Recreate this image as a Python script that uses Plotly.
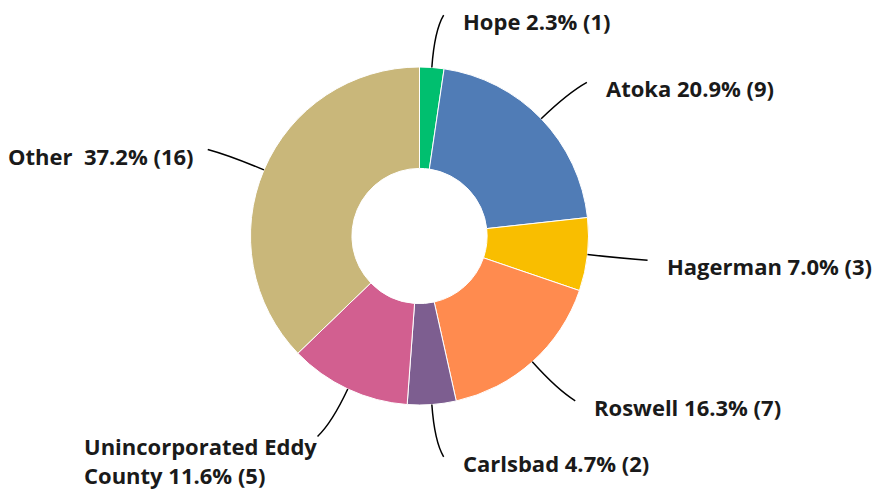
import math
import plotly.graph_objects as go

# ---- data ----
categories = ["Hope", "Atoka", "Hagerman", "Roswell", "Carlsbad",
              "Unincorporated Eddy County", "Other"]
counts = [1, 9, 3, 7, 2, 5, 16]
label_texts = ["Hope 2.3% (1)", "Atoka 20.9% (9)", "Hagerman 7.0% (3)",
               "Roswell 16.3% (7)", "Carlsbad 4.7% (2)",
               "Unincorporated Eddy<br>County 11.6% (5)", "Other  37.2% (16)"]
colors = ["#00BF6F", "#507CB6", "#F9BE00", "#FF8B4F", "#7D5E90",
          "#D25F90", "#C9B77A"]

# ---- layout geometry (pixels) ----
W, H = 876, 490
CX, CY, R = 419.5, 236.0, 169.0

fig = go.Figure(go.Pie(
    labels=categories, values=counts, sort=False, direction="clockwise",
    rotation=0, hole=0.4, textinfo="none", hoverinfo="skip",
    marker=dict(colors=colors, line=dict(color="white", width=1)),
    domain=dict(x=[(CX - R) / W, (CX + R) / W], y=[1 - (CY + R) / H, 1 - (CY - R) / H]),
    showlegend=False,
))

def px(x, y):
    return x / W, 1 - y / H

total = sum(counts)
cum = 0
shapes, annotations = [], []
font = dict(family="Open Sans", size=22, color="#1a1a1a")
for i, v in enumerate(counts):
    mid = (cum + v / 2) / total * 2 * math.pi
    cum += v
    sx, sy = math.sin(mid), -math.cos(mid)
    side = 1 if sx >= 0 else -1
    p0 = (CX + R * sx, CY + R * sy)
    c = (CX + 1.22 * R * sx, CY + 1.22 * R * sy)
    p2 = (CX + 1.31 * R * sx + side * 8, CY + 1.31 * R * sy)
    a, b, d = px(*p0), px(*c), px(*p2)
    shapes.append(dict(type="path", xref="paper", yref="paper",
                       path=f"M {a[0]},{a[1]} Q {b[0]},{b[1]} {d[0]},{d[1]}",
                       line=dict(color="black", width=1.5)))
    txt = "<b>" + label_texts[i].replace("<br>", "</b><br><b>") + "</b>"
    if "<br>" in label_texts[i]:
        lx, ly = px(p2[0] + 1, p2[1] - 7)
        annotations.append(dict(x=lx, y=ly, xref="paper", yref="paper", text=txt,
                                showarrow=False, xanchor="right", yanchor="top",
                                align="left", font=font))
    elif side > 0:
        lx, ly = px(p2[0] + 17, p2[1] + 6)
        annotations.append(dict(x=lx, y=ly, xref="paper", yref="paper", text=txt,
                                showarrow=False, xanchor="left", yanchor="middle",
                                font=font))
    else:
        lx, ly = px(p2[0] - 12, p2[1] + 7)
        annotations.append(dict(x=lx, y=ly, xref="paper", yref="paper", text=txt,
                                showarrow=False, xanchor="right", yanchor="middle",
                                font=font))

fig.update_layout(width=W, height=H, margin=dict(l=0, r=0, t=0, b=0),
                  paper_bgcolor="white", plot_bgcolor="white",
                  shapes=shapes, annotations=annotations)
fig.write_html("out.html", config={"displayModeBar": False},
               post_script="document.body.style.margin='0';")
